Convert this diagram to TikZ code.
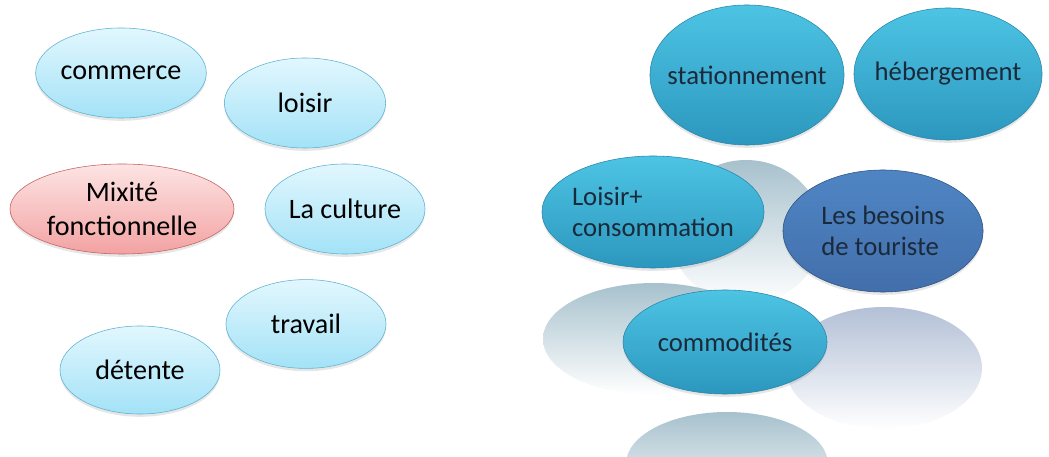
\documentclass[tikz,border=0pt]{standalone}
\usepackage{fontspec}
\setmainfont{Carlito}
\usepackage{tikz}
\usetikzlibrary{shapes.geometric,shadows}

\definecolor{paleTop}{HTML}{E2F7FE}
\definecolor{paleBot}{HTML}{A3E2F7}
\definecolor{paleLine}{HTML}{5DB2D0}
\definecolor{roseTop}{HTML}{FDE4E4}
\definecolor{roseBot}{HTML}{F3A2A2}
\definecolor{roseLine}{HTML}{C4605E}
\definecolor{tealTop}{HTML}{4DC4E4}
\definecolor{tealBot}{HTML}{2C97BE}
\definecolor{tealLine}{HTML}{2A85A9}
\definecolor{navyTop}{HTML}{4F85C4}
\definecolor{navyBot}{HTML}{426FAB}
\definecolor{navyLine}{HTML}{2D5283}
\definecolor{reflet}{HTML}{A7C1CD}
\definecolor{refletB}{HTML}{B3C0D6}
\definecolor{encre}{HTML}{1B2A3A}

\begin{document}
\begin{tikzpicture}[x=0.025cm, y=-0.025cm,
    bulle/.style={ellipse, inner sep=0pt, align=center,
        drop shadow={shadow xshift=0pt, shadow yshift=-2pt, opacity=0.2}},
    clair/.style={bulle, top color=paleTop, bottom color=paleBot,
        draw=paleLine, font=\fontsize{20}{24}\selectfont},
    rose/.style={bulle, top color=roseTop, bottom color=roseBot,
        draw=roseLine, font=\fontsize{20}{24}\selectfont},
    fonce/.style={bulle, top color=tealTop, bottom color=tealBot,
        draw=tealLine, text=encre, font=\fontsize{19}{22}\selectfont},
    besoin/.style={bulle, top color=navyTop, bottom color=navyBot,
        draw=navyLine, text=encre, font=\fontsize{19}{22}\selectfont}
]
    \path[use as bounding box] (0,0) rectangle (1049,457);
    \clip (0,0) rectangle (1049,457);

    % reflets
    \shade[top color=reflet, middle color=reflet!12, bottom color=white]
        (746,232) ellipse [x radius=76, y radius=72];
    \shade[top color=reflet, middle color=reflet!12, bottom color=white]
        (654,339) ellipse [x radius=111, y radius=56];
    \shade[top color=refletB, middle color=refletB!12, bottom color=white]
        (884,368) ellipse [x radius=98, y radius=61];
    \shade[top color=reflet, middle color=reflet!12, bottom color=white]
        (727,464) ellipse [x radius=101, y radius=52];

    % mixite fonctionnelle
    \node[clair, minimum width=4.05cm, minimum height=2.25cm] (com) at (121,73) {commerce};
    \node[clair, minimum width=4.03cm, minimum height=2.25cm] (loi) at (305,103) {loisir};
    \node[rose, minimum width=5.6cm, minimum height=2.25cm] (mix) at (122,209) {Mixité\\fonctionnelle};
    \node[clair, minimum width=4.0cm, minimum height=2.25cm] (cul) at (345,209) {La culture};
    \node[clair, minimum width=4.0cm, minimum height=2.22cm] (tra) at (306,324) {travail};
    \node[clair, minimum width=4.0cm, minimum height=2.2cm] (det) at (140,370) {détente};

    % besoins de touriste
    \node[fonce, inner xsep=-8pt, minimum width=4.85cm, minimum height=3.5cm] (sta) at (747,75) {stationnement};
    \node[fonce, inner xsep=-8pt, minimum width=4.7cm, minimum height=3.3cm] (heb) at (948,74) {hébergement};
    \node[fonce, align=left, inner xsep=-4pt, minimum width=5.55cm, minimum height=2.8cm]
        (lsc) at (653,212) {Loisir+\\consommation};
    \node[besoin, align=left, minimum width=5.0cm, minimum height=3.05cm]
        (bes) at (883,231) {Les besoins\\de touriste};
    \node[fonce, minimum width=5.1cm, minimum height=2.6cm] (cmd) at (725,342) {commodités};
\end{tikzpicture}
\end{document}
